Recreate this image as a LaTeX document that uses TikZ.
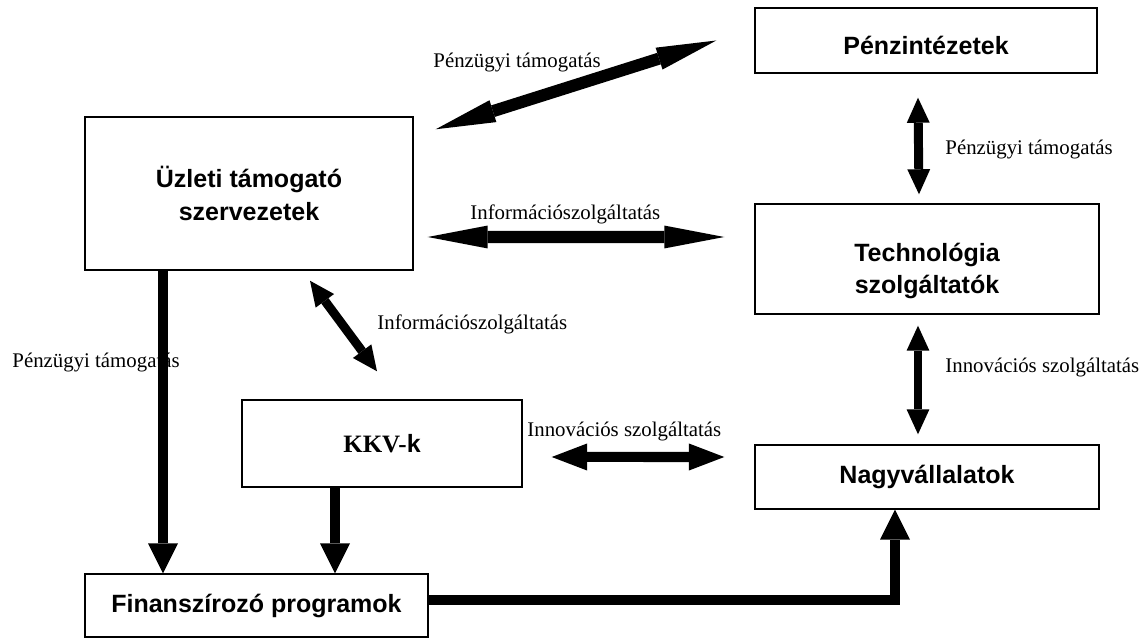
\documentclass[tikz,border=0pt]{standalone}
\usepackage{fontspec}
\setmainfont{Liberation Serif}
\setsansfont{Liberation Sans}
\usetikzlibrary{arrows.meta}
\newcommand{\pix}{0.48pt}

\begin{document}
\begin{tikzpicture}[x=0.48pt, y=-0.48pt,
    box/.style={draw, line width=0.7pt, rectangle, align=center,
        font=\fontsize{12}{15.5}\selectfont\sffamily\bfseries},
    lbl/.style={anchor=base west, inner sep=0pt, font=\fontsize{10}{12}\selectfont},
    dbl/.style={line width=5.8pt,
        arrows={Triangle[length=28.8pt,width=11pt,line width=0pt]-Triangle[length=28.8pt,width=11pt,line width=0pt]}},
    dblv/.style={line width=4.3pt,
        arrows={Triangle[length=12pt,width=11pt,line width=0pt]-Triangle[length=12pt,width=11pt,line width=0pt]}},
    dblm/.style={line width=4.8pt,
        arrows={Triangle[length=17pt,width=13pt,line width=0pt]-Triangle[length=17pt,width=13pt,line width=0pt]}},
    sgl/.style={line width=4.8pt, line join=miter,
        arrows={-Triangle[length=14.4pt,width=14.4pt,line width=0pt]}}]
    \useasboundingbox (0,0) rectangle (1143,639);
    \node[box, minimum width=342*\pix, minimum height=65*\pix] (penz) at (926,40.5) {\rule{0pt}{14pt}Pénzintézetek};
    \node[box, minimum width=328*\pix, minimum height=153*\pix] (uzleti) at (249,193.5) {Üzleti támogató\\szervezetek};
    \node[box, minimum width=344*\pix, minimum height=110*\pix] (tech) at (927,259) {\rule{0pt}{20pt}Technológia\\szolgáltatók};
    \node[box, minimum width=280*\pix, minimum height=87*\pix] (kkv) at (382,443.5) {\rmfamily KKV-\sffamily k};
    \node[box, minimum width=344*\pix, minimum height=64*\pix] (nagy) at (927,477) {Nagyvállalatok};
    \node[box, minimum width=343*\pix, minimum height=63*\pix] (fin) at (256.5,605.5) {Finanszírozó programok};
    % labels
    \node[lbl] (lab1) at (433,68) {Pénzügyi támogatás};
    \node[lbl] (lab2) at (945,155) {Pénzügyi támogatás};
    \node[lbl] (lab3) at (470,220) {Információszolgáltatás};
    \node[lbl] (lab4) at (377,330) {Információszolgáltatás};
    \node[lbl] (lab5) at (945,373) {Innovációs szolgáltatás};
    \node[lbl] (lab6) at (527,437) {Innovációs szolgáltatás};
    \node[lbl] (lab7) at (12,367) {Pénzügyi támogatás};
    % arrows
    \draw[dbl] ([shift={(22,13)}]uzleti.north east) -- ([shift={(-38,0)}]penz.west);
    \draw[dbl] ([shift={(14,43.5)}]uzleti.east) -- ([shift={(-30,-22)}]tech.west);
    \draw[dblv] ([shift={(-8,24)}]penz.south) -- ([shift={(-8,-9)}]tech.north);
    \draw[dblv] ([shift={(-9,11)}]tech.south) -- ([shift={(-9,-10)}]nagy.north);
    \draw[dblv] ([shift={(61,10)}]uzleti.south) -- ([shift={(-5,-28)}]kkv.north);
    \draw[dblm] ([shift={(29,13.5)}]kkv.east) -- ([shift={(-30,-20)}]nagy.west);
    \draw[sgl] ([shift={(-86,0)}]uzleti.south) -- ([shift={(-86,0)}]uzleti.south |- fin.north);
    \draw[sgl] ([shift={(-47,0)}]kkv.south) -- ([shift={(-47,0)}]kkv.south |- fin.north);
    \draw[sgl] ([shift={(0,-6)}]fin.east) -| ([shift={(-32,0)}]nagy.south);
\end{tikzpicture}
\end{document}
